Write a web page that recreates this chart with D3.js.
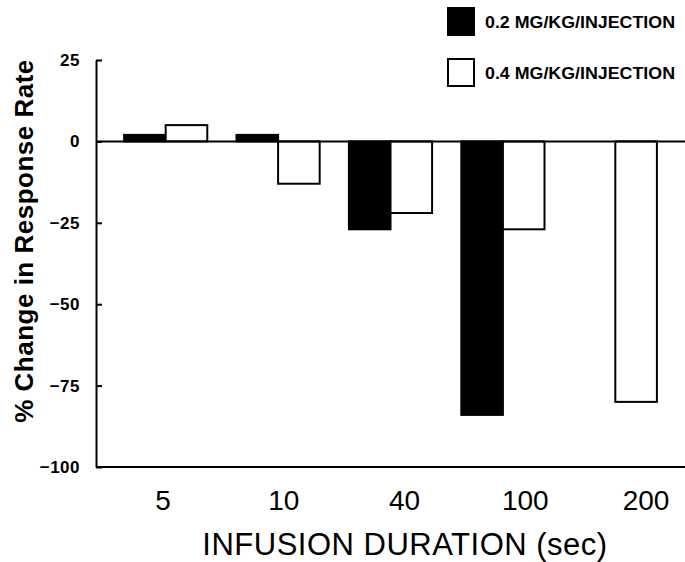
<!DOCTYPE html>
<html><head><meta charset="utf-8">
<script src="https://cdn.jsdelivr.net/npm/d3@7"></script>
<style>body{margin:0;background:#fff}</style>
</head><body>
<svg id="c" width="685" height="562"></svg>
<script>
const categories = ["5", "10", "40", "100", "200"];
const seriesNames = ["0.2 MG/KG/INJECTION", "0.4 MG/KG/INJECTION"];
const dose02 = [2, 2, -27, -84, null];
const dose04 = [5, -13, -22, -27, -80];
const yTicks = [25, 0, -25, -50, -75, -100];
const xTitle = "INFUSION DURATION (sec)";
const yTitle = "% Change in Response Rate";

const series = [dose02, dose04];
const fills = ["#000", "#fff"];

const svg = d3.select("#c");
const mLeft = 96, mRight = 685, mTop = 60, mBottom = 467;

const x = d3.scaleBand().domain(categories).range([mLeft, mRight]).paddingInner(0.26).paddingOuter(0.25);
const xi = d3.scaleBand().domain([0, 1]).range([0, x.bandwidth()]);
const xLab = d3.scalePoint().domain(categories).range([163, 646]);
const y = d3.scaleLinear().domain([-100, 25]).range([mBottom, mTop]);

// bars
series.forEach((vals, si) => {
  svg.append("g").selectAll("rect")
    .data(vals.map((v, i) => ({c: categories[i], v})).filter(d => d.v !== null))
    .join("rect")
    .attr("x", d => x(d.c) + xi(si))
    .attr("width", xi.bandwidth())
    .attr("y", d => y(Math.max(0, d.v)))
    .attr("height", d => Math.abs(y(d.v) - y(0)))
    .attr("fill", fills[si])
    .attr("stroke", "#000")
    .attr("stroke-width", 2);
});

// zero line and bottom line
const hline = d3.line().x(d => d[0]).y(d => d[1]);
[0, -100].forEach(v => {
  svg.append("path")
    .attr("d", hline([[mLeft, y(v)], [mRight, y(v)]]))
    .attr("stroke", "#000").attr("stroke-width", 2).attr("fill", "none");
});

// y axis
const ya = svg.append("g").attr("transform", `translate(${mLeft},0)`)
  .call(d3.axisLeft(y).tickValues(yTicks).tickSizeInner(-6).tickSizeOuter(0).tickPadding(16));
ya.select(".domain").attr("stroke-width", 2);
ya.selectAll(".tick line").attr("stroke-width", 2);
ya.selectAll(".tick text")
  .attr("font-family", "Liberation Sans, Arial, sans-serif")
  .attr("font-weight", "bold").attr("font-size", 17).attr("letter-spacing", "0.5px")
  .attr("fill", "#000");

// x tick labels
svg.append("g").selectAll("text").data(categories).join("text")
  .attr("x", d => xLab(d)).attr("y", 510)
  .attr("text-anchor", "middle")
  .attr("font-family", "Liberation Sans, Arial, sans-serif")
  .attr("font-size", 28).attr("fill", "#000")
  .text(d => d);

// x title
svg.append("text").attr("x", 405).attr("y", 555)
  .attr("text-anchor", "middle")
  .attr("font-family", "Liberation Sans, Arial, sans-serif")
  .attr("font-size", 31).attr("letter-spacing", "0.5px").attr("fill", "#000")
  .text(xTitle);

// y title
svg.append("text").attr("transform", "translate(33,241) rotate(-90)")
  .attr("text-anchor", "middle")
  .attr("font-family", "Liberation Sans, Arial, sans-serif")
  .attr("font-weight", "bold")
  .attr("font-size", 26).attr("letter-spacing", "0.5px").attr("fill", "#000")
  .text(yTitle);

// legend
const lg = svg.append("g");
seriesNames.forEach((name, i) => {
  const gy = 8 + i * 51;
  lg.append("rect").attr("x", 448).attr("y", gy).attr("width", 26).attr("height", 27)
    .attr("fill", fills[i]).attr("stroke", "#000").attr("stroke-width", 2);
  lg.append("text").attr("x", 485).attr("y", gy + 20)
    .attr("font-family", "Liberation Sans, Arial, sans-serif")
    .attr("font-weight", "bold").attr("font-size", 16).attr("fill", "#000")
    .attr("textLength", 190).attr("lengthAdjust", "spacingAndGlyphs")
    .text(name);
});
</script>
</body></html>
